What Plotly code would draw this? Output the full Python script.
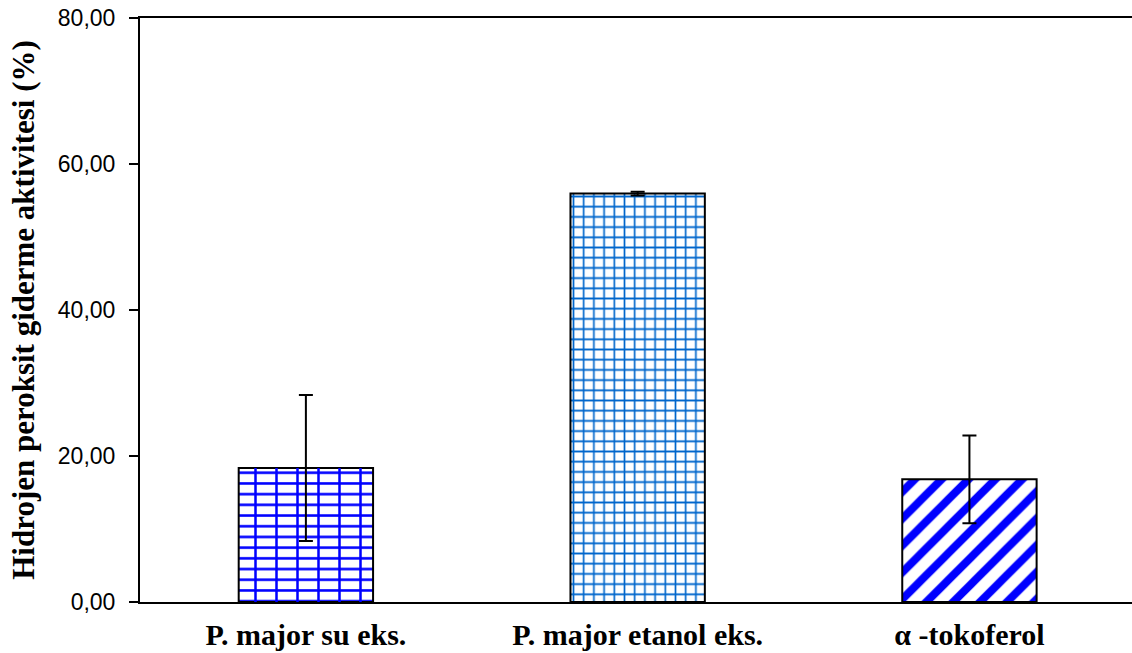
import plotly.graph_objects as go

categories = ["P. major su eks.", "P. major etanol eks.", "α -tokoferol"]
values = [18.35, 55.95, 16.8]
errors = [10.0, 0.25, 6.0]
y_tickvals = [0, 20, 40, 60, 80]
y_ticktext = ["0,00", "20,00", "40,00", "60,00", "80,00"]
y_title = "Hidrojen peroksit giderme aktivitesi (%)"

xpos = list(range(len(categories)))

fig = go.Figure()
fig.add_trace(go.Bar(
    x=xpos, y=values, width=0.405,
    marker=dict(
        color="white",
        line=dict(color="black", width=2),
        pattern=dict(
            shape=["-", "+", "/"],
            fgcolor=["#0000FF", "#0066CC", "#0000FF"],
            bgcolor="white",
            fgopacity=1,
            size=[10.7, 10.2, 19],
            solidity=[0.24, 0.3, 0.42],
        ),
    ),
    error_y=dict(type="data", array=errors, visible=True,
                 color="black", thickness=2, width=7),
    showlegend=False,
))
# vertical joints of the brick pattern on the first bar
fig.add_trace(go.Bar(
    x=xpos[:1], y=values[:1], width=0.405,
    marker=dict(
        color="rgba(0,0,0,0)",
        line=dict(width=0),
        pattern=dict(shape="|", fgcolor="#0000FF", bgcolor="rgba(0,0,0,0)",
                     fgopacity=1, size=21, solidity=0.12),
    ),
    showlegend=False,
))

fig.update_layout(
    width=1132, height=653,
    margin=dict(l=140, r=0, t=18, b=51),
    plot_bgcolor="white", paper_bgcolor="white",
    barmode="overlay",
    xaxis=dict(
        range=[-0.5, 2.49],
        tickvals=xpos, ticktext=categories,
        showline=True, linecolor="black", linewidth=2, mirror=True,
        ticks="", showgrid=False, zeroline=False, automargin=False,
        tickfont=dict(family="Liberation Serif", size=30, color="black", weight="bold"),
        ticklabelstandoff=5, ticklabeloverflow="allow",
    ),
    yaxis=dict(
        range=[0, 80],
        tickvals=y_tickvals, ticktext=y_ticktext,
        showline=True, linecolor="black", linewidth=2, mirror=False,
        ticks="outside", ticklen=9, tickwidth=2, tickcolor="black",
        showgrid=False, zeroline=False, automargin=False,
        tickfont=dict(family="Liberation Sans", size=23, color="black"),
        ticklabelstandoff=9, ticklabeloverflow="allow",
        title=dict(text=y_title, standoff=14,
                   font=dict(family="Liberation Serif", size=31, color="black", weight="bold")),
    ),
)

fig.write_html("out.html", config={"displayModeBar": False},
               post_script="document.body.style.margin='0';")
